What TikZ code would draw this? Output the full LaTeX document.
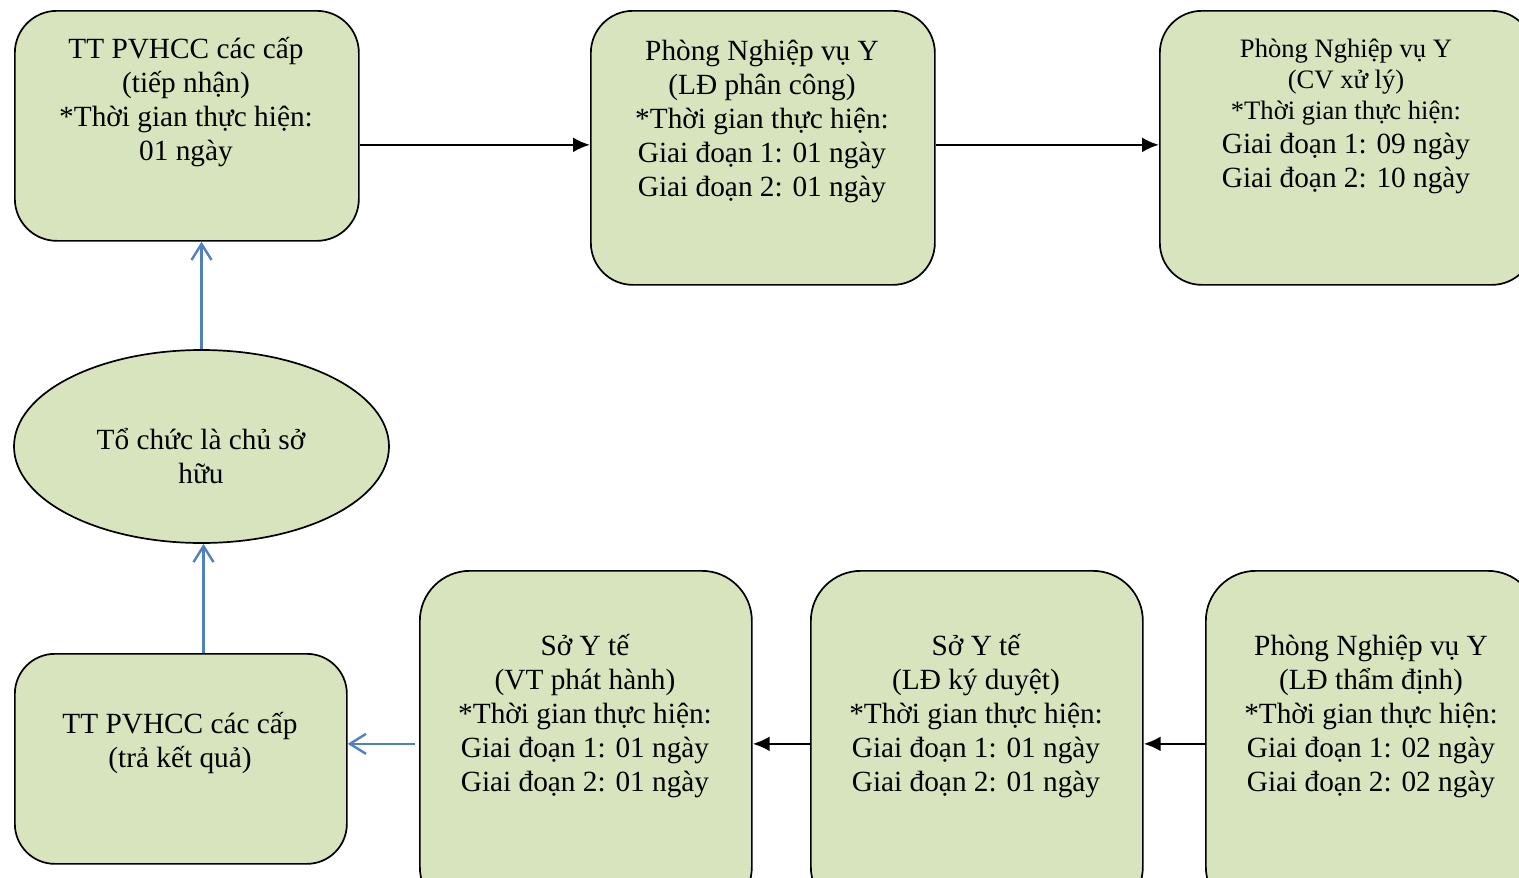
\documentclass[tikz,border=0pt]{standalone}
\usepackage{fontspec}
\setmainfont{Liberation Serif}
\usetikzlibrary{arrows.meta,shapes.geometric}
\definecolor{boxfill}{RGB}{215,228,189}
\definecolor{flowblue}{RGB}{79,129,189}
\tikzset{
  boxup/.style={draw=black, line width=1.7pt, fill=boxfill, rounded corners=42pt, anchor=north west, inner sep=0pt},
  boxdown/.style={draw=black, line width=1.7pt, fill=boxfill, rounded corners=50pt, anchor=north west, inner sep=0pt},
  txt/.style={align=center, inner sep=0pt, anchor=base, font=\fontsize{29.3}{34}\selectfont},
  txtsmall/.style={align=center, inner sep=0pt, anchor=base, font=\fontsize{26.6}{31}\selectfont},
  blackarr/.style={draw=black, line width=2.4pt, -{Latex[length=17pt,width=15pt]}},
  bluearr/.style={draw=flowblue, line width=2.4pt, -{Straight Barb[length=16pt,width=20pt,line width=2.4pt]}}
}
\begin{document}
\begin{tikzpicture}[x=1pt,y=-1pt]
\useasboundingbox (0,0) rectangle (1519,878);
% boxes
\node[boxup, minimum width=344pt, minimum height=230pt] (b1) at (14,10) {};
\node[boxup, minimum width=344pt, minimum height=274pt] (b2) at (590,10) {};
\node[boxup, minimum width=374pt, minimum height=274pt] (b3) at (1159,10) {};
\node[boxdown, minimum width=332pt, minimum height=346pt] (b4) at (1205,570) {};
\node[boxdown, minimum width=332pt, minimum height=346pt] (b5) at (810,570) {};
\node[boxdown, minimum width=332pt, minimum height=346pt] (b6) at (419,570) {};
\node[boxup, minimum width=332pt, minimum height=210pt, rounded corners=40pt] (b7) at (14,653) {};
\node[draw=black, line width=1.7pt, fill=boxfill, ellipse, minimum width=375pt, minimum height=193pt, inner sep=0pt] (ell) at (201.5,446.5) {};
% texts (anchor = baseline of the last line)
\node[txt] (t1) at (186,160) {TT PVHCC các cấp\\(tiếp nhận)\\*Thời gian thực hiện:\\01 ngày};
\node[txt] (t2) at (762,196) {Phòng Nghiệp vụ Y\\(LĐ phân công)\\*Thời gian thực hiện:\\Giai đoạn 1: 01 ngày\\Giai đoạn 2: 01 ngày};
\node[txtsmall] (t3a) at (1346,119) {Phòng Nghiệp vụ Y\\(CV xử lý)\\*Thời gian thực hiện:};
\node[txt] (t3b) at (1346,187) {Giai đoạn 1: 09 ngày\\Giai đoạn 2: 10 ngày};
\node[txt] (t4) at (1371,791) {Phòng Nghiệp vụ Y\\(LĐ thẩm định)\\*Thời gian thực hiện:\\Giai đoạn 1: 02 ngày\\Giai đoạn 2: 02 ngày};
\node[txt] (t5) at (976,791) {Sở Y tế\\(LĐ ký duyệt)\\*Thời gian thực hiện:\\Giai đoạn 1: 01 ngày\\Giai đoạn 2: 01 ngày};
\node[txt] (t6) at (585,791) {Sở Y tế\\(VT phát hành)\\*Thời gian thực hiện:\\Giai đoạn 1: 01 ngày\\Giai đoạn 2: 01 ngày};
\node[txt] (t7) at (180,767) {TT PVHCC các cấp\\(trả kết quả)};
\node[txt] (te) at (201,483) {Tổ chức là chủ sở\\hữu};
% connectors
\draw[blackarr] ([yshift=3pt]b1.east |- b2.west) -- ([yshift=3pt]b2.west);
\draw[blackarr] ([yshift=3pt]b2.east) -- ([yshift=3pt]b3.west);
\draw[blackarr] (b4.west) -- (b5.east);
\draw[blackarr] (b5.west) -- (b6.east);
\draw[bluearr] ([xshift=-4pt]b6.west) -- (b7.east |- b6.west);
\draw[bluearr] ([xshift=2pt]ell.south |- b7.north) -- ([xshift=2pt]ell.south);
\draw[bluearr] (ell.north) -- (ell.north |- b1.south);
\end{tikzpicture}
\end{document}
